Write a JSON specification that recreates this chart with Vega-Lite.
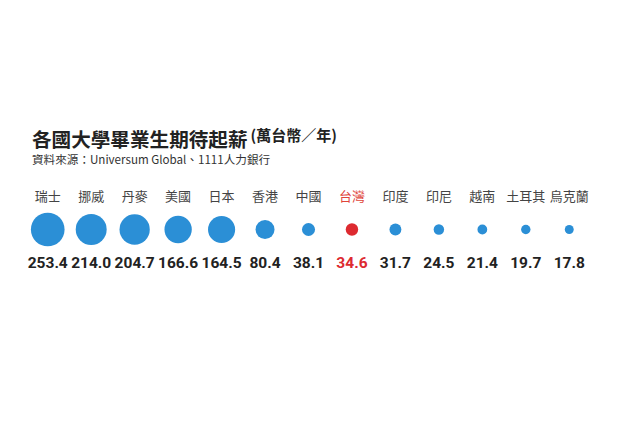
{
  "$schema": "https://vega.github.io/schema/vega-lite/v6.json",
  "width": 565,
  "height": 99,
  "autosize": {"type": "none"},
  "padding": {"left": 26, "top": 180, "right": 39, "bottom": 143},
  "background": "#ffffff",
  "title": {
    "text": "各國大學畢業生期待起薪",
    "subtitle": "資料來源：Universum Global、1111人力銀行",
    "anchor": "start",
    "dx": 6,
    "offset": -40,
    "font": "Noto Sans CJK TC",
    "fontSize": 19.6,
    "fontWeight": "bold",
    "color": "#222222",
    "subtitleFont": "Noto Sans CJK TC",
    "subtitleFontSize": 11.6,
    "subtitleColor": "#333333",
    "subtitlePadding": 4
  },
  "data": {
    "values": [
      {"country": "瑞士", "value": 253.4},
      {"country": "挪威", "value": 214.0},
      {"country": "丹麥", "value": 204.7},
      {"country": "美國", "value": 166.6},
      {"country": "日本", "value": 164.5},
      {"country": "香港", "value": 80.4},
      {"country": "中國", "value": 38.1},
      {"country": "台灣", "value": 34.6},
      {"country": "印度", "value": 31.7},
      {"country": "印尼", "value": 24.5},
      {"country": "越南", "value": 21.4},
      {"country": "土耳其", "value": 19.7},
      {"country": "烏克蘭", "value": 17.8}
    ]
  },
  "encoding": {
    "x": {
      "field": "country",
      "type": "nominal",
      "sort": null,
      "scale": {"type": "band", "paddingInner": 0, "paddingOuter": 0},
      "axis": {
        "orient": "top",
        "title": "(萬台幣／年)",
        "titleFont": "Noto Sans CJK TC",
        "titleFontSize": 15,
        "titleFontWeight": "bold",
        "titleColor": "#222222",
        "titleAlign": "left",
        "titleAnchor": "start",
        "titleBaseline": "alphabetic",
        "titleX": 224,
        "titleY": -40,
        "labels": false,
        "ticks": false,
        "domain": false,
        "grid": false
      }
    }
  },
  "layer": [
    {
      "mark": {"type": "text", "font": "Noto Sans CJK TC", "fontSize": 13, "baseline": "middle"},
      "encoding": {
        "y": {"datum": "label", "type": "ordinal", "scale": {"type": "point", "domain": ["label", "circle", "value"], "padding": 0.5}, "axis": null},
        "text": {"field": "country"},
        "color": {"condition": {"test": "datum.country === '台灣'", "value": "#e0443a"}, "value": "#444444"}
      }
    },
    {
      "mark": {"type": "circle", "opacity": 1},
      "encoding": {
        "y": {"datum": "circle", "type": "ordinal"},
        "size": {"field": "value", "type": "quantitative", "scale": {"domain": [0, 253.4], "range": [0, 1134]}, "legend": null},
        "color": {"condition": {"test": "datum.country === '台灣'", "value": "#dd2a30"}, "value": "#2b8fd6"}
      }
    },
    {
      "mark": {"type": "text", "font": "Roboto", "fontSize": 15.5, "fontWeight": "bold", "baseline": "middle"},
      "encoding": {
        "y": {"datum": "value", "type": "ordinal"},
        "text": {"field": "value", "type": "quantitative", "format": ".1f"},
        "color": {"condition": {"test": "datum.country === '台灣'", "value": "#dd2a30"}, "value": "#222222"}
      }
    }
  ],
  "config": {"view": {"stroke": null}}
}
